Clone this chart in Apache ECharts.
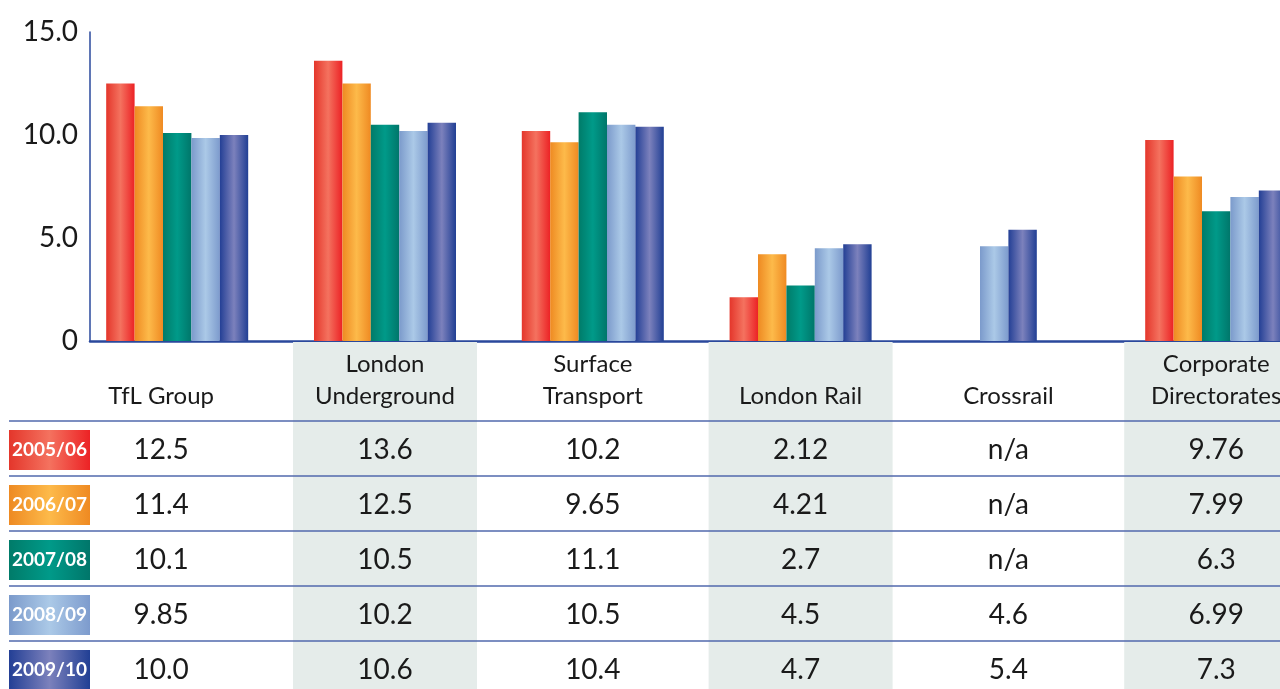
<!DOCTYPE html>
<html>
<head>
<meta charset="utf-8">
<script src="https://cdn.jsdelivr.net/npm/echarts@6/dist/echarts.min.js"></script>
<style>
  html, body { margin: 0; padding: 0; background: #fff; }
  #bar { width: 1280px; height: 689px; }
</style>
</head>
<body>
<div id="bar"></div>
<script>
// 数据
const categories = ['TfL Group', 'London\nUnderground', 'Surface\nTransport', 'London Rail', 'Crossrail', 'Corporate\nDirectorates'];
const years = ['2005/06', '2006/07', '2007/08', '2008/09', '2009/10'];
const y0506 = [12.5, 13.6, 10.2, 2.12, null, 9.76];
const y0607 = [11.4, 12.5, 9.65, 4.21, null, 7.99];
const y0708 = [10.1, 10.5, 11.1, 2.7, null, 6.3];
const y0809 = [9.85, 10.2, 10.5, 4.5, 4.6, 6.99];
const y0910 = [10.0, 10.6, 10.4, 4.7, 5.4, 7.3];
const yTicks = [0, 5, 10, 15];

const values = [y0506, y0607, y0708, y0809, y0910];
// 每个年份的渐变色 [边, 中间, 边]
const colors = [
	['#e4362b', '#f4725f', '#ec2225'],
	['#ee8a22', '#fdba4a', '#ef8a22'],
	['#007b69', '#009a89', '#00766a'],
	['#7b9acb', '#abc9e7', '#7d9bcd'],
	['#233f95', '#7c81bc', '#213f94']
];
const barW = 28.4;
const font = 'Lato, "Open Sans", sans-serif';

function grad(c) {
	return new echarts.graphic.LinearGradient(0, 0, 1, 0, [
		{ offset: 0, color: c[0] },
		{ offset: 0.5, color: c[1] },
		{ offset: 1, color: c[2] }
	]);
}

function fmt(v) {
	if (v == null) return 'n/a';
	return Number.isInteger(v) ? v.toFixed(1) : String(v);
}

let myChart = echarts.init(document.getElementById('bar'));

const series = values.map(function (arr, s) {
	return {
		name: years[s],
		type: 'custom',
		encode: { x: 0, y: 1 },
		data: arr.map(function (v, i) { return [i, v]; }).filter(function (d) { return d[1] != null; }),
		renderItem: function (params, api) {
			const ci = api.value(0);
			const v = api.value(1);
			// 只计算有数据的柱子, 居中排列
			let n = 0, rank = 0;
			for (let k = 0; k < values.length; k++) {
				if (values[k][ci] != null) {
					if (k < s) rank++;
					n++;
				}
			}
			const base = api.coord([ci, 0]);
			const top = api.coord([ci, v]);
			const x = base[0] + (rank - (n - 1) / 2) * barW - barW / 2;
			return {
				type: 'rect',
				shape: { x: x, y: top[1], width: barW, height: base[1] - top[1] },
				style: { fill: grad(colors[s]) }
			};
		}
	};
});

myChart.setOption({
	animation: false,
	grid: { left: 90, right: 0, top: 32, bottom: 348 },
	xAxis: {
		type: 'value',
		min: -0.4196,
		max: 5.307,
		axisLine: { show: true, onZero: false, lineStyle: { color: '#2a489c', width: 2.5 } },
		axisTick: { show: false },
		axisLabel: { show: false },
		splitLine: { show: false }
	},
	yAxis: {
		type: 'value',
		min: yTicks[0],
		max: yTicks[yTicks.length - 1],
		interval: 5,
		axisLine: { show: true, onZero: false, lineStyle: { color: '#2a489c', width: 1.5 } },
		axisTick: { show: false },
		splitLine: { show: false },
		axisLabel: {
			margin: 12,
			color: '#1a1a1a',
			fontSize: 28,
			fontFamily: font,
			formatter: function (v) { return v === 0 ? '0' : v.toFixed(1); }
		}
	},
	series: series
});

// 下方表格
const centers = categories.map(function (c, i) {
	return myChart.convertToPixel({ xAxisIndex: 0 }, i);
});
const rowTop = 421, rowH = 55;
let els = [];

// 标题 (被裁掉只露出下部)
els.push({
	type: 'text', z: 5,
	style: { text: 'Average sickness days per employee by year', x: 165, y: 0, verticalAlign: 'bottom',
		fill: '#2b4aa0', fontSize: 28, fontFamily: font }
});

centers.forEach(function (cx, i) {
	if (i % 2 === 1) {
		els.push({
			type: 'rect', z: 1,
			shape: { x: cx - 92, y: 342, width: 184, height: 347 },
			style: { fill: '#e5ecea' }
		});
	}
	const tx = i === 0 ? cx - 16 : cx;
	els.push({
		type: 'text', z: 4,
		style: { text: categories[i], x: tx, y: 412, align: 'center', verticalAlign: 'bottom',
			lineHeight: 32, fill: '#1a1a1a', fontSize: 24, fontFamily: font }
	});
	values.forEach(function (arr, r) {
		els.push({
			type: 'text', z: 4,
			style: { text: fmt(arr[i]), x: tx, y: rowTop + r * rowH + 29, align: 'center', verticalAlign: 'middle',
				fill: '#1a1a1a', fontSize: 28, fontFamily: font }
		});
	});
});

years.forEach(function (y, r) {
	const top = rowTop + r * rowH;
	els.push({
		type: 'line', z: 3,
		shape: { x1: 9, y1: top, x2: 1280, y2: top },
		style: { stroke: '#5069ad', lineWidth: 1.5 }
	});
	els.push({
		type: 'rect', z: 3,
		shape: { x: 9, y: top + 9, width: 81, height: 40 },
		style: { fill: grad(colors[r]) }
	});
	els.push({
		type: 'text', z: 4,
		style: { text: y, x: 49.5, y: top + 29, align: 'center', verticalAlign: 'middle',
			fill: '#fff', fontSize: 19, fontWeight: 'bold', fontFamily: font }
	});
});

myChart.setOption({ graphic: { elements: els } });
</script>
</body>
</html>
